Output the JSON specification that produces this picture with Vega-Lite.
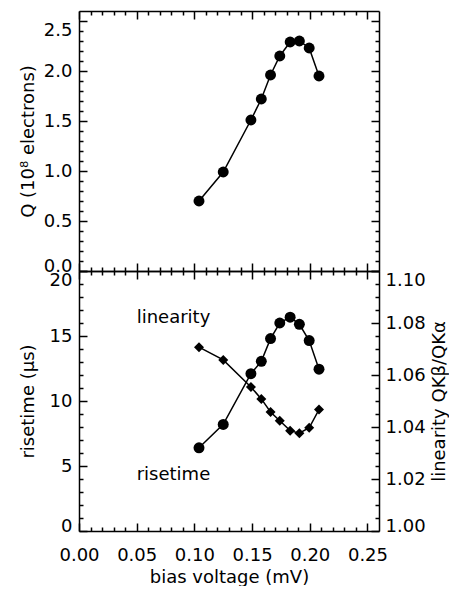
{
  "$schema": "https://vega.github.io/schema/vega-lite/v6.json",
  "padding": {"left": 19, "top": 10, "right": 0, "bottom": 0},
  "spacing": 0,
  "bounds": "flush",
  "config": {
    "view": {"stroke": null},
    "font": "DejaVu Sans",
    "axis": {
      "labelFont": "DejaVu Sans", "titleFont": "DejaVu Sans",
      "labelFontSize": 18, "titleFontSize": 18, "titleFontWeight": "normal",
      "labelColor": "black", "titleColor": "black",
      "domainColor": "black", "tickColor": "black",
      "domainWidth": 1.5, "tickWidth": 1.5,
      "grid": false, "labelOverlap": false, "labelBound": false, "labelFlush": false
    }
  },
  "datasets": {
    "d": [
      {"v": 0.104, "Q": 0.70, "risetime": 6.4, "linearity": 1.0707},
      {"v": 0.125, "Q": 0.99, "risetime": 8.2, "linearity": 1.0658},
      {"v": 0.149, "Q": 1.51, "risetime": 12.1, "linearity": 1.0554},
      {"v": 0.158, "Q": 1.72, "risetime": 13.05, "linearity": 1.0508},
      {"v": 0.166, "Q": 1.96, "risetime": 14.8, "linearity": 1.0458},
      {"v": 0.174, "Q": 2.15, "risetime": 16.0, "linearity": 1.0424},
      {"v": 0.183, "Q": 2.29, "risetime": 16.45, "linearity": 1.0386},
      {"v": 0.191, "Q": 2.30, "risetime": 15.9, "linearity": 1.0376},
      {"v": 0.1995, "Q": 2.23, "risetime": 14.65, "linearity": 1.0397},
      {"v": 0.208, "Q": 1.95, "risetime": 12.45, "linearity": 1.0467}
    ],
    "ann": [
      {"v": 0.05, "risetime": 16.4, "label": "linearity"},
      {"v": 0.05, "risetime": 4.3, "label": "risetime"}
    ]
  },
  "vconcat": [
    {
      "width": 300, "height": 260,
      "data": {"name": "d"},
      "layer": [
        {
          "mark": {"type": "line", "color": "black", "strokeWidth": 1.5},
          "encoding": {
            "x": {"field": "v", "type": "quantitative", "scale": {"domain": [0, 0.25]},
              "axis": {"orient": "bottom", "title": null, "labels": false, "ticks": true, "values": [0, 0.05, 0.1, 0.15, 0.2, 0.25], "tickSize": -8}},
            "y": {"field": "Q", "type": "quantitative", "scale": {"domain": [0, 2.5]},
              "axis": {"orient": "left", "title": "Q (10⁸  electrons)", "titlePadding": 6, "ticks": true,
                "values": [0, 0.5, 1, 1.5, 2, 2.5], "format": ".1f", "tickSize": -8, "labelPadding": 15,
                "labelBaseline": {"expr": "datum.value > 2.49 ? 'top' : (datum.value < 0.01 ? 'alphabetic' : 'middle')"}}}
          }
        },
        {
          "mark": {"type": "point", "filled": true, "color": "black", "opacity": 1, "size": 120, "shape": "circle"},
          "encoding": {
            "x": {"field": "v", "type": "quantitative",
              "axis": {"orient": "top", "title": null, "labels": false, "ticks": true, "values": [0, 0.05, 0.1, 0.15, 0.2, 0.25], "tickSize": -8}},
            "y": {"field": "Q", "type": "quantitative",
              "axis": {"orient": "right", "title": null, "labels": false, "ticks": true, "values": [0, 0.5, 1, 1.5, 2, 2.5], "tickSize": -8}}
          }
        },
        {
          "mark": {"type": "line", "color": "black", "opacity": 0},
          "encoding": {
            "x": {"field": "v", "type": "quantitative",
              "axis": {"orient": "bottom", "title": null, "labels": false, "ticks": true, "domain": false, "tickSize": -4,
                "values": [0.01,0.02,0.03,0.04,0.06,0.07,0.08,0.09,0.11,0.12,0.13,0.14,0.16,0.17,0.18,0.19,0.21,0.22,0.23,0.24]}},
            "y": {"field": "Q", "type": "quantitative",
              "axis": {"orient": "left", "title": null, "labels": false, "ticks": true, "domain": false, "tickSize": -4,
                "values": [0.1,0.2,0.3,0.4,0.6,0.7,0.8,0.9,1.1,1.2,1.3,1.4,1.6,1.7,1.8,1.9,2.1,2.2,2.3,2.4]}}
          }
        },
        {
          "mark": {"type": "line", "color": "black", "opacity": 0},
          "encoding": {
            "x": {"field": "v", "type": "quantitative",
              "axis": {"orient": "top", "title": null, "labels": false, "ticks": true, "domain": false, "tickSize": -4,
                "values": [0.01,0.02,0.03,0.04,0.06,0.07,0.08,0.09,0.11,0.12,0.13,0.14,0.16,0.17,0.18,0.19,0.21,0.22,0.23,0.24]}},
            "y": {"field": "Q", "type": "quantitative",
              "axis": {"orient": "right", "title": null, "labels": false, "ticks": true, "domain": false, "tickSize": -4,
                "values": [0.1,0.2,0.3,0.4,0.6,0.7,0.8,0.9,1.1,1.2,1.3,1.4,1.6,1.7,1.8,1.9,2.1,2.2,2.3,2.4]}}
          }
        }
      ],
      "resolve": {"axis": {"x": "independent", "y": "independent"}}
    },
    {
      "width": 300, "height": 260,
      "layer": [
        {
          "data": {"name": "d"},
          "mark": {"type": "line", "color": "black", "strokeWidth": 1.5},
          "encoding": {
            "x": {"field": "v", "type": "quantitative", "scale": {"domain": [0, 0.25]},
              "axis": {"orient": "bottom", "title": "bias voltage (mV)", "titlePadding": 4, "ticks": true,
                "values": [0, 0.05, 0.1, 0.15, 0.2, 0.25], "format": ".2f", "tickSize": -8, "labelPadding": 23}},
            "y": {"field": "risetime", "type": "quantitative", "scale": {"domain": [0, 20]},
              "axis": {"orient": "left", "title": "risetime (μs)", "titlePadding": 12, "ticks": true,
                "values": [0, 5, 10, 15, 20], "format": "d", "tickSize": -8, "labelPadding": 15,
                "labelBaseline": {"expr": "datum.value > 19.9 ? 'top' : (datum.value < 0.1 ? 'alphabetic' : 'middle')"}}}
          }
        },
        {
          "data": {"name": "d"},
          "mark": {"type": "point", "filled": true, "color": "black", "opacity": 1, "size": 120, "shape": "circle"},
          "encoding": {
            "x": {"field": "v", "type": "quantitative", "axis": null},
            "y": {"field": "risetime", "type": "quantitative", "scale": {"domain": [0, 20]}, "axis": null}
          }
        },
        {
          "data": {"name": "ann"},
          "mark": {"type": "text", "align": "left", "baseline": "middle", "font": "DejaVu Sans", "fontSize": 18, "color": "black"},
          "encoding": {
            "x": {"field": "v", "type": "quantitative", "axis": null},
            "y": {"field": "risetime", "type": "quantitative", "scale": {"domain": [0, 20]}, "axis": null},
            "text": {"field": "label"}
          }
        },
        {
          "data": {"name": "d"},
          "mark": {"type": "line", "color": "black", "opacity": 0},
          "encoding": {
            "x": {"field": "v", "type": "quantitative",
              "axis": {"orient": "bottom", "title": null, "labels": false, "ticks": true, "domain": false, "tickSize": -4,
                "values": [0.01,0.02,0.03,0.04,0.06,0.07,0.08,0.09,0.11,0.12,0.13,0.14,0.16,0.17,0.18,0.19,0.21,0.22,0.23,0.24]}},
            "y": {"field": "risetime", "type": "quantitative", "scale": {"domain": [0, 20]},
              "axis": {"orient": "left", "title": null, "labels": false, "ticks": true, "domain": false, "tickSize": -4,
                "values": [1,2,3,4,6,7,8,9,11,12,13,14,16,17,18,19]}}
          }
        },
        {
          "data": {"name": "d"},
          "mark": {"type": "line", "color": "black", "strokeWidth": 1.5},
          "encoding": {
            "x": {"field": "v", "type": "quantitative",
              "axis": {"orient": "top", "title": null, "labels": false, "ticks": true, "values": [0, 0.05, 0.1, 0.15, 0.2, 0.25], "tickSize": -8}},
            "y": {"field": "linearity", "type": "quantitative", "scale": {"domain": [1.0, 1.1], "zero": false},
              "axis": {"orient": "right", "title": "linearity QKβ/QKα", "titleAngle": 270, "titleBaseline": "top", "titlePadding": 5, "ticks": true,
                "values": [1, 1.02, 1.04, 1.06, 1.08, 1.1], "format": ".2f", "tickSize": -8, "labelPadding": 14,
                "labelBaseline": {"expr": "datum.value > 1.099 ? 'top' : (datum.value < 1.001 ? 'alphabetic' : 'middle')"}}}
          }
        },
        {
          "data": {"name": "d"},
          "mark": {"type": "point", "filled": true, "color": "black", "opacity": 1, "size": 100, "shape": "diamond"},
          "encoding": {
            "x": {"field": "v", "type": "quantitative", "axis": null},
            "y": {"field": "linearity", "type": "quantitative", "scale": {"domain": [1.0, 1.1], "zero": false}, "axis": null}
          }
        },
        {
          "data": {"name": "d"},
          "mark": {"type": "line", "color": "black", "opacity": 0},
          "encoding": {
            "x": {"field": "v", "type": "quantitative",
              "axis": {"orient": "top", "title": null, "labels": false, "ticks": true, "domain": false, "tickSize": -4,
                "values": [0.01,0.02,0.03,0.04,0.06,0.07,0.08,0.09,0.11,0.12,0.13,0.14,0.16,0.17,0.18,0.19,0.21,0.22,0.23,0.24]}},
            "y": {"field": "linearity", "type": "quantitative", "scale": {"domain": [1.0, 1.1], "zero": false},
              "axis": {"orient": "right", "title": null, "labels": false, "ticks": true, "domain": false, "tickSize": -4,
                "values": [1.005,1.01,1.015,1.025,1.03,1.035,1.045,1.05,1.055,1.065,1.07,1.075,1.085,1.09,1.095]}}
          }
        }
      ],
      "resolve": {"scale": {"y": "independent"}, "axis": {"x": "independent", "y": "independent"}}
    }
  ]
}
